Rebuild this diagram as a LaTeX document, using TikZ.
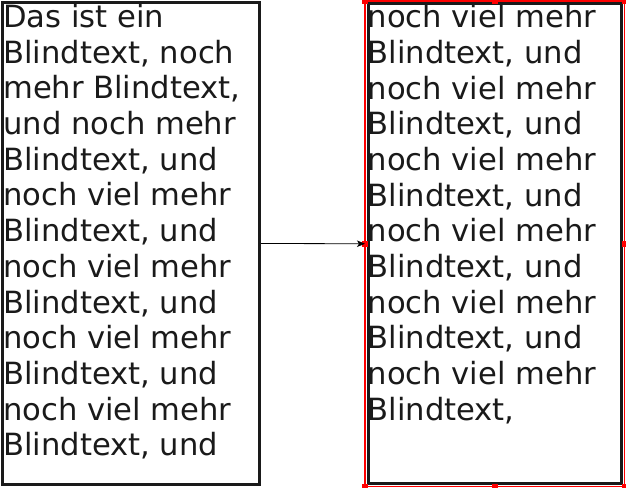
\documentclass[tikz,border=0pt]{standalone}
\usepackage{fontspec}
\setmainfont{DejaVu Sans}
\usetikzlibrary{arrows.meta}
\definecolor{boxline}{RGB}{26,26,26}
\definecolor{selred}{RGB}{255,0,0}
\begin{document}
\begin{tikzpicture}[x=1pt,y=1pt,
  framebox/.style={draw=boxline,line width=3pt,inner sep=0pt,rectangle},
  flowtext/.style={inner sep=0pt,align=left,anchor=north west,text=boxline,
    font=\fontsize{30.6}{35.67}\selectfont},
  marker/.style={fill=selred,draw=none,minimum size=6pt,inner sep=0pt,rectangle},
  link/.style={draw=black,line width=0.8pt,-{Stealth[length=8pt,width=6.5pt,inset=2pt]}}]
\useasboundingbox (0,0) rectangle (626,487);
\fill[white] (0,0) rectangle (626,487);
% boxes
\node[framebox,minimum width=257pt,minimum height=482pt] (lb) at (131,243.5) {};
\node[framebox,minimum width=253.5pt,minimum height=479.5pt] (rb) at (494.75,243.25) {};
% selection outline
\draw[selred,line width=1.5pt] ([shift={(-1.5,1.5)}]rb.north west) rectangle ([shift={(1.5,-1.5)}]rb.south east);
\coordinate (rnw) at ([shift={(-1.5,1.5)}]rb.north west);
\coordinate (rse) at ([shift={(1.5,-1.5)}]rb.south east);
\node[marker] (m1) at (rnw) {};
\node[marker] (m2) at (rnw -| rb.north) {};
\node[marker] (m3) at (rnw -| rse) {};
\node[marker] (m4) at (rse |- rb.east) {};
\node[marker] (m5) at (rse) {};
\node[marker] (m6) at (rse -| rb.south) {};
\node[marker] (m7) at (rse -| rnw) {};
\node[marker] (m8) at (rnw |- rb.west) {};
% texts
\node[flowtext] (lt) at (3,482.8) {Das ist ein\\Blindtext, noch\\mehr Blindtext,\\und noch mehr\\Blindtext, und\\noch viel mehr\\Blindtext, und\\noch viel mehr\\Blindtext, und\\noch viel mehr\\Blindtext, und\\noch viel mehr\\Blindtext, und};
\node[flowtext] (rt) at (367.5,482.6) {noch viel mehr\\Blindtext, und\\noch viel mehr\\Blindtext, und\\noch viel mehr\\Blindtext, und\\noch viel mehr\\Blindtext, und\\noch viel mehr\\Blindtext, und\\noch viel mehr\\Blindtext,};
% connector
\draw[link] (lb.east) -- (m8.center);
\end{tikzpicture}
\end{document}
